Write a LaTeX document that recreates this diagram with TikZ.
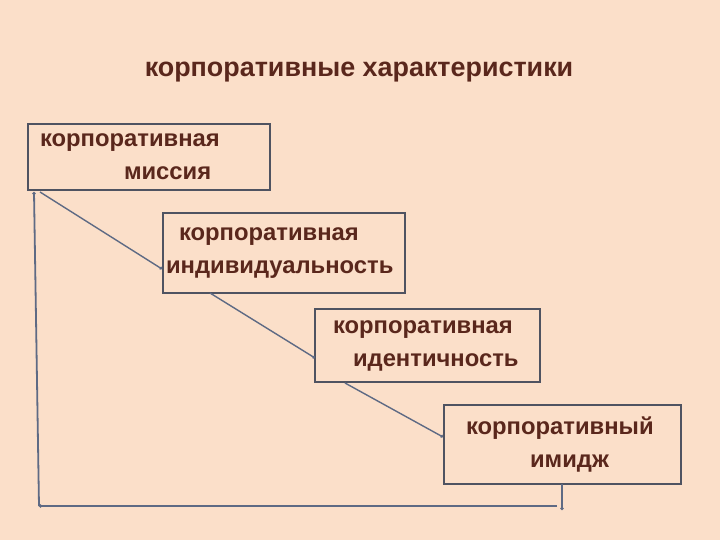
\documentclass[tikz,border=0pt]{standalone}
\usepackage{fontspec}
\setmainfont{Liberation Sans}
\usetikzlibrary{arrows.meta}

\definecolor{bgpeach}{HTML}{FBDFC9}
\definecolor{txtbrown}{HTML}{5A271C}
\definecolor{boxgray}{HTML}{4F5361}
\definecolor{linkblue}{HTML}{5E6A84}

\tikzset{
  charbox/.style={draw=boxgray, line width=2.2pt, inner sep=0pt, align=left,
    text=txtbrown, font=\fontsize{23.8}{33}\selectfont\bfseries},
  link/.style={draw=linkblue, line width=1.4pt, -{Circle[length=3pt]}}
}
\newcommand{\pad}[1]{\hspace*{#1pt}}

\begin{document}
\begin{tikzpicture}[x=1pt,y=-1pt]

\useasboundingbox (0,0) rectangle (720,540);
\fill[bgpeach] (0,0) rectangle (720,540);

\node [text=txtbrown, font=\fontsize{26.9}{30}\selectfont\bfseries] (title) at (359,72) {корпоративные характеристики};

\node [charbox, minimum width=242pt, minimum height=66pt, text width=242pt] (mission) at (149,157)
  {\pad{12}корпоративная\\\pad{96}миссия};
\node [charbox, minimum width=242pt, minimum height=80pt, text width=242pt] (individ) at (284,253)
  {\pad{16}корпоративная\\\pad{3}индивидуальность};
\node [charbox, minimum width=225pt, minimum height=73pt, text width=225pt] (ident) at (427.5,345.5)
  {\pad{18}корпоративная\\\pad{38}идентичность};
\node [charbox, minimum width=237pt, minimum height=79pt, text width=237pt] (image) at (562.5,444.5)
  {\pad{22}корпоративный\\\pad{86}имидж};

% points where the links meet the boxes
\coordinate (m1) at (40,192);
\coordinate (i1) at (162,269);
\coordinate (i2) at (210,293);
\coordinate (d1) at (315,358);
\coordinate (d2) at (345,383);
\coordinate (g1) at (443,437);
\coordinate (g2) at (562,484);
\coordinate (g3) at (562,510);
\coordinate (c1) at (39,506);
\coordinate (c2) at (34,192);

\draw [link] (m1) -- (i1);
\draw [link] (i2) -- (d1);
\draw [link] (d2) -- (g1);
\draw [link] (g2) -- (g3);
\draw [link] (557,506) -- (c1);
\draw [link, line width=1.8pt] (c1) -- (c2);

\end{tikzpicture}
\end{document}
